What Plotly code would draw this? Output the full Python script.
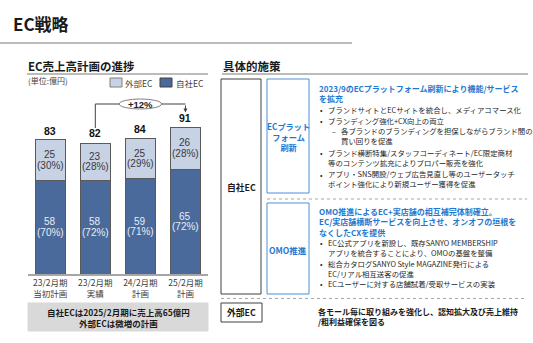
import plotly.graph_objects as go

# ---------------- data ----------------
categories = ["23/2月期<br>当初計画", "23/2月期<br>実績", "24/2月期<br>計画", "25/2月期<br>計画"]
own_ec = [58, 58, 59, 65]          # 自社EC
own_pct = [70, 72, 71, 72]
ext_ec = [25, 23, 25, 26]          # 外部EC
ext_pct = [30, 28, 29, 28]
totals = [83, 82, 84, 91]
growth_label = "+12%"
series_names = ["外部EC", "自社EC"]

W, H = 533, 343
FONT = "Noto Sans CJK JP"
NUMFONT = "Liberation Sans"
DARK = "#4a6a9b"
LIGHT = "#c7d2e5"
BLUE_TXT = "#1f78d1"
BLUE_BOX = "#4a90d9"
TXT = "#262626"


def X(px):
    return px / W


def Y(py):
    return 1 - py / H


# axis geometry (pixel based)
base_px, top_px = 274, 88
px_per_unit = 1.615
y_top = (base_px - top_px) / px_per_unit

fig = go.Figure()
fig.add_trace(go.Bar(x=categories, y=own_ec, name=series_names[1], marker=dict(color=DARK, line=dict(color="#5a5a5a", width=1)),
                     width=0.665, hoverinfo="skip"))
fig.add_trace(go.Bar(x=categories, y=ext_ec, name=series_names[0], marker=dict(color=LIGHT, line=dict(color="#5a5a5a", width=1)),
                     width=0.665, hoverinfo="skip"))

ann = []
shapes = []


def seg_label(i, ymid, val, pct, color):
    ann.append(dict(x=i, y=ymid, xref="x", yref="y", text=f"{val}", showarrow=False, yshift=5.2,
                    borderpad=0, font=dict(family=NUMFONT, size=10, color=color)))
    ann.append(dict(x=i, y=ymid, xref="x", yref="y", text=f"({pct}%)", showarrow=False, yshift=-5.2,
                    borderpad=0, font=dict(family=NUMFONT, size=10, color=color)))


# labels inside bars and totals
for i, c in enumerate(categories):
    seg_label(i, own_ec[i] / 2, own_ec[i], own_pct[i], "#e8edf5")
    seg_label(i, own_ec[i] + ext_ec[i] / 2, ext_ec[i], ext_pct[i], "#3a3a3a")
    ann.append(dict(x=i, y=totals[i], xref="x", yref="y", text=f"<b>{totals[i]}</b>", yanchor="bottom",
                    showarrow=False, yshift=1, font=dict(family=NUMFONT, size=10.5, color="#111111")))

# growth bracket between bar 2 and bar 4
yh = (base_px - 104) / px_per_unit
shapes.append(dict(type="line", xref="x", yref="y", x0=1, x1=1, y0=totals[1] + 8.4, y1=yh,
                   line=dict(color="#404040", width=1)))
shapes.append(dict(type="line", xref="x", yref="y", x0=1, x1=3, y0=yh, y1=yh,
                   line=dict(color="#404040", width=1)))
ann.append(dict(x=3, y=totals[3] + 9.0, ax=3, ay=yh, xref="x", yref="y", axref="x", ayref="y", text="",
                showarrow=True, arrowhead=2, arrowsize=0.8, arrowwidth=1, arrowcolor="#404040"))
shapes.append(dict(type="circle", xref="x", yref="y", x0=2 - 0.47, x1=2 + 0.47, y0=yh - 3.1, y1=yh + 3.1,
                   fillcolor="white", line=dict(color="#7f7f7f", width=1), layer="above"))
ann.append(dict(x=2, y=yh, xref="x", yref="y", text=f"<b>{growth_label}</b>", showarrow=False,
                borderpad=0, font=dict(family=NUMFONT, size=9.5, color="#222222")))


# ---------------- page furniture ----------------
def text(px, py, s, size=8, color=TXT, bold=False, xanchor="left", align="left"):
    if bold:
        s = "<b>" + s.replace("<br>", "</b><br><b>") + "</b>"
    ann.append(dict(x=X(px), y=Y(py), xref="paper", yref="paper", text=s, showarrow=False,
                    xanchor=xanchor, yanchor="middle", align=align, borderpad=0,
                    font=dict(family=FONT, size=size, color=color)))


def hline(x0, x1, y, color="#a6a6a6", width=1.5, dash="solid"):
    shapes.append(dict(type="line", xref="paper", yref="paper", x0=X(x0), x1=X(x1), y0=Y(y), y1=Y(y),
                       line=dict(color=color, width=width, dash=dash)))


def rect(x0, y0, x1, y1, line="#404040", fill="rgba(0,0,0,0)", width=1):
    shapes.append(dict(type="rect", xref="paper", yref="paper", x0=X(x0), x1=X(x1), y0=Y(y1), y1=Y(y0),
                       line=dict(color=line, width=width), fillcolor=fill, layer="below"))


# title
text(12, 23, "EC戦略", size=17, color="#1a1a1a", bold=True)
hline(0, 352, 43, color="#a6a6a6", width=1.5)

# left header
text(27, 66, "EC売上高計画の進捗", size=11.5, color="#1a1a1a", bold=True)
hline(27, 208, 74)
text(27, 81, "(単位:億円)", size=8, color="#404040")

# legend (manual)
rect(110, 78, 122, 87, line="#7f7f7f", fill=LIGHT)
text(124, 82.5, series_names[0], size=8.5, color="#404040")
rect(160, 78, 172, 87, line="#404040", fill=DARK)
text(175, 82.5, series_names[1], size=8.5, color="#404040")

# summary gray box
rect(28, 303, 208, 331, line="#d9d9d9", fill="#d9d9d9")
text(118, 317, "自社ECは2025/2月期に売上高65億円<br>外部ECは微増の計画", size=8.5, color="#1a1a1a",
     bold=True, xanchor="center", align="center")

# right header
text(222, 66, "具体的施策", size=11.5, color="#1a1a1a", bold=True)
hline(222, 528, 74)

# boxes
rect(221, 79, 261, 294)
text(241, 187, "自社EC", size=8.8, color="#1a1a1a", bold=True, xanchor="center")
rect(267, 79, 309, 193, line=BLUE_BOX)
text(288, 136, "ECプラット<br>フォーム<br>刷新", size=8.2, color=BLUE_TXT, bold=True, xanchor="center", align="center")
rect(267, 203, 309, 294, line=BLUE_BOX)
text(288, 250, "OMO推進", size=8.5, color=BLUE_TXT, bold=True, xanchor="center")
hline(267, 527, 199, color="#a6a6a6", width=1, dash="dot")
hline(221, 527, 298.5, color="#a6a6a6", width=1, dash="dot")
rect(221, 303, 262, 322)
text(241.5, 312.5, "外部EC", size=8.8, color="#1a1a1a", bold=True, xanchor="center")

# platform block
HS, BS = 8, 7.4
text(318, 94, "2023/9のECプラットフォーム刷新により機能/サービス<br>を拡充", size=HS, color=BLUE_TXT, bold=True)
# (first-line y, mark, text, level, number of lines)
bullets = [
    (110, "•", "ブランドサイトとECサイトを統合し、メディアコマース化", 0, 1),
    (120, "•", "ブランディング強化+CX向上の両立", 0, 1),
    (131, "–", "各ブランドのブランディングを担保しながらブランド間の<br>買い回りを促進", 1, 2),
    (153, "•", "ブランド横断特集/スタッフコーディネート/EC限定商材<br>等のコンテンツ拡充によりプロパー販売を強化", 0, 2),
    (174, "•", "アプリ・SNS開設/ウェブ広告見直し等のユーザータッチ<br>ポイント強化により新規ユーザー獲得を促進", 0, 2),
    (242.5, "•", "EC公式アプリを新設し、既存SANYO MEMBERSHIP<br>アプリを統合することにより、OMOの基盤を整備", 0, 2),
    (263.5, "•", "総合カタログSANYO Style MAGAZINE発行による<br>EC/リアル相互送客の促進", 0, 2),
    (283.5, "•", "ECユーザーに対する店舗試着/受取サービスの実装", 0, 1),
]
LH = BS * 1.3
for yy, mark, s, lvl, n in bullets:
    cy = yy + (n - 1) * LH / 2
    mx, tx = (319, 327) if lvl == 0 else (331, 340)
    text(mx, yy, mark, size=BS)
    text(tx, cy, s, size=BS)

text(318, 222, "OMO推進によるEC+実店舗の相互補完体制確立。<br>EC/実店舗横断サービスを向上させ、オンオフの垣根を<br>なくしたCXを提供",
     size=HS, color=BLUE_TXT, bold=True)

text(317, 316.8, "各モール毎に取り組みを強化し、認知拡大及び売上維持<br>/粗利益確保を図る", size=8, color="#1a1a1a", bold=True)

fig.update_layout(
    width=W, height=H, margin=dict(l=0, r=0, t=0, b=0),
    paper_bgcolor="white", plot_bgcolor="white",
    barmode="stack", bargap=0.335, showlegend=False,
    annotations=ann, shapes=shapes,
    xaxis=dict(domain=[X(27.7), X(208)], range=[-0.5, 3.5], showgrid=False, zeroline=False,
               showline=True, linecolor="#a6a6a6", linewidth=1.5, ticks="",
               tickfont=dict(family=FONT, size=8.5, color="#404040"), fixedrange=True),
    yaxis=dict(domain=[Y(base_px), Y(top_px)], range=[0, y_top], visible=False, fixedrange=True),
    font=dict(family=FONT),
)

fig.write_html("out.html")
